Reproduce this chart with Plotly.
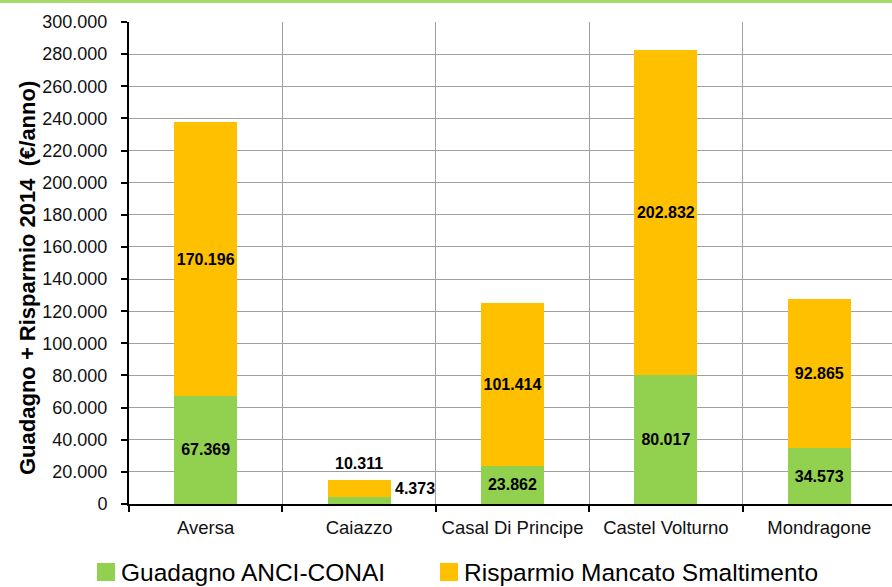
import plotly.graph_objects as go

# Dati comunali (€/anno)
comuni = ["Aversa", "Caiazzo", "Casal Di Principe", "Castel Volturno", "Mondragone"]
guadagno = [67369, 4373, 23862, 80017, 34573]
risparmio = [170196, 10311, 101414, 202832, 92865]
nome_guadagno = "Guadagno ANCI-CONAI"
nome_risparmio = "Risparmio Mancato Smaltimento"
y_ticks = list(range(0, 300001, 20000))
titolo_y = "Guadagno + Risparmio 2014\u00a0\u00a0(€/anno)"

VERDE = "#92D050"
ORO = "#FFC000"
FONT = "Liberation Sans, Arial, sans-serif"

# Area del grafico in pixel
L, R, T, B = 129, 892, 22, 504
PW, PH = R - L, B - T


def fmt(v):
    return f"{v:,}".replace(",", ".")


def px(xp):
    return (xp - L) / PW


def py(yp):
    return (B - yp) / PH


# Caiazzo ha barre troppo basse: etichette fuori dalla barra
inside_g = [fmt(v) if c != "Caiazzo" else "" for c, v in zip(comuni, guadagno)]
inside_r = [fmt(v) if c != "Caiazzo" else "" for c, v in zip(comuni, risparmio)]
lab_font = dict(family=FONT, size=16, color="black", weight="bold")

fig = go.Figure()
for vals, txt, col, nome in [(guadagno, inside_g, VERDE, nome_guadagno),
                             (risparmio, inside_r, ORO, nome_risparmio)]:
    fig.add_trace(go.Bar(
        x=comuni, y=vals, name=nome, marker_color=col,
        marker_line_width=0, width=0.41,
        text=txt, textposition="inside", insidetextanchor="middle",
        textangle=0, textfont=lab_font, constraintext="none",
    ))

i = comuni.index("Caiazzo")
tot = guadagno[i] + risparmio[i]
fig.add_annotation(x=i, y=tot, text=fmt(risparmio[i]), showarrow=False,
                   yanchor="bottom", yshift=6, font=lab_font)
fig.add_annotation(x=i + 0.205, y=tot / 2, text=fmt(guadagno[i]), showarrow=False,
                   xanchor="left", xshift=2, yshift=4, font=lab_font)

# Legenda disegnata a mano con quadrati grandi
leg_font = dict(family=FONT, size=24.5, color="black")
for x0, col, txt in [(97, VERDE, nome_guadagno), (440, ORO, nome_risparmio)]:
    fig.add_shape(type="rect", xref="paper", yref="paper",
                  x0=px(x0), x1=px(x0 + 18), y0=py(581), y1=py(563),
                  fillcolor=col, line_width=0, layer="above")
    fig.add_annotation(xref="paper", yref="paper", x=px(x0 + 22), y=py(572),
                       text=txt, showarrow=False,
                       xanchor="left", yanchor="middle", font=leg_font)

# Titolo asse y
fig.add_annotation(xref="paper", yref="paper", x=px(27), y=py(278),
                   text=titolo_y, textangle=-90, showarrow=False,
                   xanchor="center", yanchor="middle",
                   font=dict(family=FONT, size=22, color="black", weight="bold"))

# Linea verde in alto
fig.add_shape(type="rect", xref="paper", yref="paper", x0=px(0), x1=1,
              y0=py(3), y1=py(-1), fillcolor="#A6D86A", line_width=0)

fig.update_layout(
    width=892, height=587,
    margin=dict(l=L, r=892 - R, t=T, b=587 - B, autoexpand=False),
    barmode="stack",
    showlegend=False,
    separators=",.",
    plot_bgcolor="white", paper_bgcolor="white",
    font=dict(family=FONT, color="black"),
)
fig.update_xaxes(
    type="category", range=[-0.5, 4.474], automargin=False, tickangle=0,
    tickson="boundaries", showgrid=True, gridcolor="#A0A0A0", gridwidth=1,
    ticks="outside", ticklen=6, tickwidth=2, tickcolor="black",
    ticklabelstandoff=6,
    showline=True, linecolor="black", linewidth=2,
    tickfont=dict(family=FONT, size=18.5, color="#111"),
)
fig.update_yaxes(
    range=[0, 300000], tickvals=y_ticks, tickformat=",d", automargin=False,
    showgrid=True, gridcolor="#A0A0A0", gridwidth=1,
    ticks="outside", ticklen=6, tickwidth=2, tickcolor="black",
    ticklabelstandoff=10,
    showline=True, linecolor="black", linewidth=2, zeroline=False,
    tickfont=dict(family=FONT, size=18, color="#111"),
)

fig.write_html("out.html")
